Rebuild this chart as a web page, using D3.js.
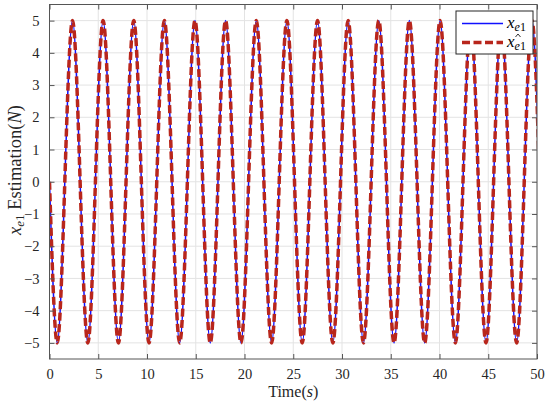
<!DOCTYPE html>
<html>
<head>
<meta charset="utf-8">
<script src="https://cdn.jsdelivr.net/npm/d3@7"></script>
<style>
	body { margin: 0; background: #fff; }
	svg { display: block; }
	.tick text { font-family: "Liberation Serif", "DejaVu Serif", serif; font-size: 14.5px; fill: #262626; }
</style>
</head>
<body>
<div id="chart"></div>
<script>
// time stamps (s) of zero crossings and extrema
var timeS = [0, 0.79, 1.57, 2.36, 3.14, 3.93, 4.71, 5.50, 6.28, 7.07, 7.85, 8.64,
	9.42, 10.21, 11.00, 11.78, 12.57, 13.35, 14.14, 14.92, 15.71, 16.49, 17.28, 18.06,
	18.85, 19.64, 20.42, 21.21, 21.99, 22.78, 23.56, 24.35, 25.13, 25.92, 26.70, 27.49,
	28.27, 29.06, 29.85, 30.63, 31.42, 32.20, 32.99, 33.77, 34.56, 35.34, 36.13, 36.91,
	37.70, 38.48, 39.27, 40.06, 40.84, 41.63, 42.41, 43.20, 43.98, 44.77, 45.55, 46.34,
	47.12, 47.91, 48.69, 49.48, 50.27];
// x_e1 at those stamps
var xe1 = [0, -5, 0, 5, 0, -5, 0, 5, 0, -5, 0, 5,
	0, -5, 0, 5, 0, -5, 0, 5, 0, -5, 0, 5,
	0, -5, 0, 5, 0, -5, 0, 5, 0, -5, 0, 5,
	0, -5, 0, 5, 0, -5, 0, 5, 0, -5, 0, 5,
	0, -5, 0, 5, 0, -5, 0, 5, 0, -5, 0, 5,
	0, -5, 0, 5, 0];
// estimate, lies on top of x_e1
var xe1Hat = [0, -5, 0, 5, 0, -5, 0, 5, 0, -5, 0, 5,
	0, -5, 0, 5, 0, -5, 0, 5, 0, -5, 0, 5,
	0, -5, 0, 5, 0, -5, 0, 5, 0, -5, 0, 5,
	0, -5, 0, 5, 0, -5, 0, 5, 0, -5, 0, 5,
	0, -5, 0, 5, 0, -5, 0, 5, 0, -5, 0, 5,
	0, -5, 0, 5, 0];
var xTicks = [0, 5, 10, 15, 20, 25, 30, 35, 40, 45, 50];
var yTicks = [-5, -4, -3, -2, -1, 0, 1, 2, 3, 4, 5];

var W = 550, H = 406;
var mLeft = 49.5, mRight = 537, mTop = 4.5, mBottom = 359;

var svg = d3.select("#chart").append("svg")
		.attr("width", W)
		.attr("height", H);

var x = d3.scaleLinear().domain([0, 50]).range([mLeft, mRight]);
var y = d3.scaleLinear().domain([-5.5, 5.5]).range([mBottom, mTop]);

svg.append("defs").append("clipPath")
		.attr("id", "plot")
	.append("rect")
		.attr("x", mLeft).attr("y", mTop)
		.attr("width", mRight - mLeft).attr("height", mBottom - mTop);

// grid
var grid = svg.append("g").attr("stroke", "#e3e3e3").attr("stroke-width", 1);
grid.selectAll(".gx").data(xTicks).enter().append("line")
		.attr("x1", d => x(d)).attr("x2", d => x(d))
		.attr("y1", mTop).attr("y2", mBottom);
grid.selectAll(".gy").data(yTicks).enter().append("line")
		.attr("x1", mLeft).attr("x2", mRight)
		.attr("y1", d => y(d)).attr("y2", d => y(d));

// series
var line = d3.line().curve(d3.curveNatural);
var lines = svg.append("g").attr("clip-path", "url(#plot)");

lines.append("path")
		.datum(timeS.map((t, i) => [x(t), y(xe1[i])]))
		.attr("fill", "none")
		.attr("stroke", "#1010ff")
		.attr("stroke-width", 1.5)
		.attr("d", line);

lines.append("path")
		.datum(timeS.map((t, i) => [x(t), y(xe1Hat[i])]))
		.attr("fill", "none")
		.attr("stroke", "#b8261c")
		.attr("stroke-width", 3.5)
		.attr("stroke-dasharray", "8,3.5")
		.attr("d", line);

// axes, MATLAB-style ticks pointing inward
var axisColor = "#555";
var tickLen = 5;
function styleAxis(g) {
	g.select(".domain").remove();
	g.selectAll(".tick line").attr("stroke", axisColor);
}
svg.append("g")
		.attr("transform", `translate(0,${mBottom})`)
		.call(d3.axisBottom(x).tickValues(xTicks).tickSize(-tickLen).tickPadding(10))
		.call(styleAxis);
svg.append("g")
		.attr("transform", `translate(0,${mTop})`)
		.call(d3.axisTop(x).tickValues(xTicks).tickSize(-tickLen).tickFormat(""))
		.call(styleAxis);
svg.append("g")
		.attr("transform", `translate(${mLeft},0)`)
		.call(d3.axisLeft(y).tickValues(yTicks).tickSize(-tickLen).tickPadding(10)
			.tickFormat(d => d < 0 ? "\u2212" + Math.abs(d) : d))
		.call(styleAxis);
svg.append("g")
		.attr("transform", `translate(${mRight},0)`)
		.call(d3.axisRight(y).tickValues(yTicks).tickSize(-tickLen).tickFormat(""))
		.call(styleAxis);

svg.append("rect")
		.attr("x", mLeft).attr("y", mTop)
		.attr("width", mRight - mLeft).attr("height", mBottom - mTop)
		.attr("fill", "none")
		.attr("stroke", axisColor)
		.attr("stroke-width", 1);

var serif = "'Liberation Serif', 'DejaVu Serif', serif";

// axis labels
var xl = svg.append("text")
		.attr("x", (mLeft + mRight) / 2).attr("y", 397)
		.attr("text-anchor", "middle")
		.attr("font-family", serif).attr("font-size", 16)
		.attr("fill", "#262626");
xl.append("tspan").text("Time(");
xl.append("tspan").attr("font-style", "italic").text("s");
xl.append("tspan").text(")");

var yl = svg.append("text")
		.attr("transform", `translate(21,170) rotate(-90)`)
		.attr("text-anchor", "middle")
		.attr("font-family", serif).attr("font-size", 18.5)
		.attr("fill", "#262626");
yl.append("tspan").attr("font-style", "italic").text("x");
yl.append("tspan").attr("font-style", "italic").attr("font-size", 13).attr("dy", 3).text("e");
yl.append("tspan").attr("font-size", 13).text("1");
yl.append("tspan").attr("dy", -3).text(" Estimation(");
yl.append("tspan").attr("font-style", "italic").text("N");
yl.append("tspan").text(")");

// legend
var lg = svg.append("g");
lg.append("rect")
		.attr("x", 456).attr("y", 11)
		.attr("width", 77).attr("height", 43)
		.attr("fill", "#fff")
		.attr("stroke", "#262626")
		.attr("stroke-width", 1);
lg.append("line")
		.attr("x1", 462).attr("x2", 503).attr("y1", 23.5).attr("y2", 23.5)
		.attr("stroke", "#1010ff").attr("stroke-width", 1.5);
lg.append("line")
		.attr("x1", 462).attr("x2", 503).attr("y1", 42.5).attr("y2", 42.5)
		.attr("stroke", "#b8261c").attr("stroke-width", 3.5)
		.attr("stroke-dasharray", "8,3.5");

function legendLabel(yy, hat) {
	var t = lg.append("text")
			.attr("x", 507).attr("y", yy)
			.attr("font-family", serif).attr("font-size", 17)
			.attr("fill", "#000");
	t.append("tspan").attr("font-style", "italic").text("x");
	t.append("tspan").attr("font-style", "italic").attr("font-size", 12).attr("dy", 3).text("e");
	t.append("tspan").attr("font-size", 12).text("1");
	if (hat) {
		lg.append("path")
				.attr("d", `M${515.5},${yy - 10} L${518},${yy - 13} L${520.5},${yy - 10}`)
				.attr("fill", "none")
				.attr("stroke", "#000")
				.attr("stroke-width", 0.8);
	}
}
legendLabel(28, false);
legendLabel(47, true);
</script>
</body>
</html>
